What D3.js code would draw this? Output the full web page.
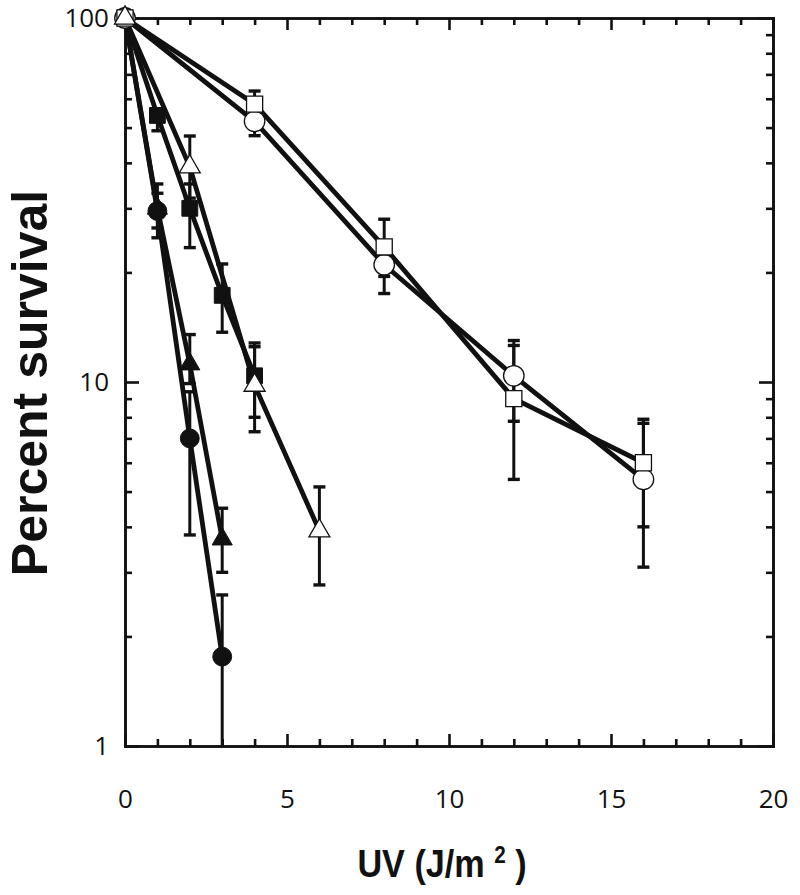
<!DOCTYPE html>
<html lang="en">
<head>
<meta charset="UTF-8">
<script src="https://cdn.jsdelivr.net/npm/d3@7"></script>
<style>
    body{margin:0;background:#fff;}
    svg text{font-family:"Open Sans",sans-serif;fill:#111;}
    .axis path,.axis line{stroke:#111;stroke-width:2.6;}
    .axis .domain{stroke-linecap:square;}
</style>
<title>UV survival</title>
</head>
<body>
<script>
// UV dose (J/m2) for each curve
var doseLong = [0,4,8,12,16];
var doseTriOpen = [0,2,4,6];
var doseSqFilled = [0,1,2,3,4];
var doseShort = [0,1,2,3];

// percent survival with error bar limits
var sqOpen = [100,58,23.5,9.0,6.0];
var sqOpenLo = [100,53,19.5,5.4,4.0];
var sqOpenHi = [100,63,28,12.6,7.9];

var circOpen = [100,52,21,10.4,5.4];
var circOpenLo = [100,47.5,17.5,7.8,3.1];
var circOpenHi = [100,57,23,13.0,7.7];

var triOpen = [100,39,9.8,3.9];
var triOpenLo = [100,32,7.3,2.77];
var triOpenHi = [100,47.4,12.8,5.15];

var sqFilled = [100,54,30,17.3,10.4];
var sqFilledLo = [100,49,23.4,13.7,8.0];
var sqFilledHi = [100,56,35,21.1,12.5];

var triFilled = [100,30,11.2,3.7];
var triFilledLo = [100,24.9,9.9,3.0];
var triFilledHi = [100,35,13.5,4.5];

var circFilled = [100,29.5,7.0,1.76];
var circFilledLo = [100,26.5,3.8,0.5];
var circFilledHi = [100,33,9.4,2.6];

var xTicks = d3.range(0,21);
var xLabels = [0,5,10,15,20];
var yLabels = [1,10,100];
var yMinor = [2,3,4,5,6,7,8,9,20,30,40,50,60,70,80,90];

function makeSeries(dose,v,lo,hi,shape,filled){
    return {shape:shape,filled:filled,pts:dose.map(function(d,i){
        return {dose:d,v:v[i],lo:lo[i],hi:hi[i]};
    })};
}
// drawing order: last one ends on top
var series = [
    makeSeries(doseShort,circFilled,circFilledLo,circFilledHi,"circle",true),
    makeSeries(doseShort,triFilled,triFilledLo,triFilledHi,"triangle",true),
    makeSeries(doseSqFilled,sqFilled,sqFilledLo,sqFilledHi,"square",true),
    makeSeries(doseLong,circOpen,circOpenLo,circOpenHi,"circle",false),
    makeSeries(doseLong,sqOpen,sqOpenLo,sqOpenHi,"square",false),
    makeSeries(doseTriOpen,triOpen,triOpenLo,triOpenHi,"triangle",false)
];

var x = d3.scaleLinear().domain([0,20]).range([125,773]);
var y = d3.scaleLog().domain([1,100]).range([746,18]).clamp(true);

var svg = d3.select("body").append("svg")
    .attr("width",800)
    .attr("height",895);

// frame ticks, all pointing inward
var notMajor = xTicks.filter(function(d){ return d%5!==0; });
svg.append("g").attr("class","axis").attr("transform","translate(0,746)")
    .call(d3.axisBottom(x).tickValues(notMajor).tickSize(-7).tickSizeOuter(0).tickFormat(""));
svg.append("g").attr("class","axis").attr("transform","translate(0,746)")
    .call(d3.axisBottom(x).tickValues(xLabels).tickSize(-12).tickSizeOuter(0).tickPadding(44).tickFormat(d3.format("d")))
    .selectAll("text").style("font-size","26px");
svg.append("g").attr("class","axis").attr("transform","translate(0,18)")
    .call(d3.axisTop(x).tickValues(notMajor).tickSize(-7).tickSizeOuter(0).tickFormat(""));
svg.append("g").attr("class","axis").attr("transform","translate(0,18)")
    .call(d3.axisTop(x).tickValues(xLabels).tickSize(-12).tickSizeOuter(0).tickFormat(""));

svg.append("g").attr("class","axis").attr("transform","translate(125,0)")
    .call(d3.axisLeft(y).tickValues(yMinor).tickSize(-7).tickSizeOuter(0).tickFormat(""));
svg.append("g").attr("class","axis").attr("transform","translate(125,0)")
    .call(d3.axisLeft(y).tickValues(yLabels).tickSize(-14).tickSizeOuter(0).tickPadding(16).tickFormat(d3.format("d")))
    .selectAll("text").style("font-size","26px");
svg.append("g").attr("class","axis").attr("transform","translate(773,0)")
    .call(d3.axisRight(y).tickValues(yMinor).tickSize(-7).tickSizeOuter(0).tickFormat(""));
svg.append("g").attr("class","axis").attr("transform","translate(773,0)")
    .call(d3.axisRight(y).tickValues(yLabels).tickSize(-14).tickSizeOuter(0).tickFormat(""));

// axis titles
svg.append("text")
    .attr("transform","translate(47,383) rotate(-90)")
    .attr("text-anchor","middle")
    .style("font-family","'Liberation Sans',Arial,sans-serif")
    .style("font-weight","bold")
    .style("font-size","50px")
    .text("Percent survival");

// condensed bold title, squeezed horizontally
var xt = svg.append("text")
    .attr("transform","translate(442,877) scale(0.9,1)")
    .attr("text-anchor","middle")
    .style("font-family","'Liberation Sans',Arial,sans-serif")
    .style("font-weight","bold")
    .style("font-size","38px");
xt.append("tspan").text("UV (J/m ");
xt.append("tspan").attr("dy","-14").style("font-size","23px").text("2");
xt.append("tspan").attr("dy","14").text(" )");

// curves
var line = d3.line()
    .x(function(d){ return x(d.dose); })
    .y(function(d){ return y(d.v); });

svg.append("g").selectAll("path")
    .data(series)
    .enter()
    .append("path")
    .attr("d",function(s){ return line(s.pts); })
    .attr("fill","none")
    .attr("stroke","#111")
    .attr("stroke-width",4.8)
    .attr("stroke-linejoin","round");

// error bars
var errPts = [];
series.forEach(function(s){
    s.pts.forEach(function(p){ if(p.hi>p.lo) errPts.push(p); });
});
var eb = svg.append("g").attr("stroke","#111");
eb.selectAll("line.bar")
    .data(errPts)
    .enter()
    .append("line")
    .attr("class","bar")
    .attr("x1",function(d){ return x(d.dose); })
    .attr("x2",function(d){ return x(d.dose); })
    .attr("y1",function(d){ return y(d.lo); })
    .attr("y2",function(d){ return y(d.hi); })
    .attr("stroke-width",3);
var caps = [];
errPts.forEach(function(p){
    caps.push({dose:p.dose,v:p.hi});
    if(p.lo>=1) caps.push({dose:p.dose,v:p.lo});
});
eb.selectAll("line.cap")
    .data(caps)
    .enter()
    .append("line")
    .attr("class","cap")
    .attr("x1",function(d){ return x(d.dose)-6; })
    .attr("x2",function(d){ return x(d.dose)+6; })
    .attr("y1",function(d){ return y(d.v); })
    .attr("y2",function(d){ return y(d.v); })
    .attr("stroke-width",3.4);

// markers
var symbolType = {circle:d3.symbolCircle,square:d3.symbolSquare,triangle:d3.symbolTriangle};
var symbolSize = {
    circle:{open:330,filled:280},
    square:{open:260,filled:250},
    triangle:{open:190,filled:175}
};
series.forEach(function(s){
    svg.append("g").selectAll("path")
        .data(s.pts)
        .enter()
        .append("path")
        .attr("transform",function(d){ return "translate("+x(d.dose)+","+y(d.v)+")"; })
        .attr("d",d3.symbol().type(symbolType[s.shape]).size(symbolSize[s.shape][s.filled?"filled":"open"]))
        .attr("fill",s.filled?"#111":"#fff")
        .attr("stroke","#111")
        .attr("stroke-width",s.filled?1:1.3);
});
</script>
</body>
</html>
